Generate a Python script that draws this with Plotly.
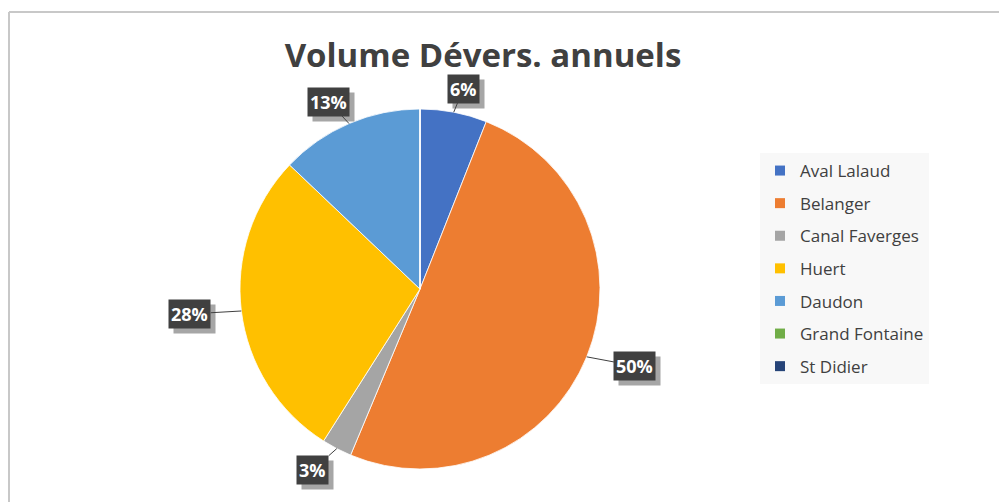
import math
import plotly.graph_objects as go

# ---- data ----
labels = ["Aval Lalaud", "Belanger", "Canal Faverges", "Huert", "Daudon", "Grand Fontaine", "St Didier"]
values = [6.0, 50.3, 2.7, 28.1, 12.9, 0.0, 0.0]
colors = ["#4472C4", "#ED7D31", "#A5A5A5", "#FFC000", "#5B9BD5", "#70AD47", "#264478"]
title_text = "Volume Dévers. annuels"

# ---- layout constants (page has an 8px body margin) ----
OFF = 8
W, H = 999, 494
CX, CY, R = 420 - OFF, 289 - OFF, 180  # pie centre / radius in figure pixels


def px_x(sx):
    return (sx - OFF) / W


def px_y(sy):
    return 1 - (sy - OFF) / H


fig = go.Figure()

fig.add_trace(go.Pie(
    labels=labels, values=values,
    marker=dict(colors=colors, line=dict(color="white", width=0.8)),
    sort=False, direction="clockwise", rotation=0,
    textinfo="none", showlegend=False, hoverinfo="label+percent",
    domain=dict(x=[(CX - R) / W, (CX + R) / W],
                y=[1 - (CY + R) / H, 1 - (CY - R) / H]),
))

# legend entries (one per category, separate groups so spacing matches)
for lab, col in zip(labels, colors):
    fig.add_trace(go.Scatter(
        x=[None], y=[None], mode="markers", name=lab, legendgroup=lab,
        marker=dict(symbol="square", size=10, color=col),
        showlegend=True,
    ))

# percentage labels with leader lines, derived from the values
total = sum(values)
annotations = []
cum = 0.0
for v in values:
    if v <= 0:
        cum += v
        continue
    mid = (cum + v / 2) / total * 2 * math.pi
    cum += v
    s, c = math.sin(mid), math.cos(mid)
    fx = CX + R * s
    fy = CY - R * c
    ax = 26 * s + 26 * s
    ay = -24 * c
    txt = f"<b>{round(v / total * 100):d}%</b>"
    common = dict(x=fx / W, y=1 - fy / H, xref="paper", yref="paper",
                  showarrow=True, arrowhead=0, arrowwidth=1, borderpad=2)
    # shadow
    annotations.append(dict(common, text=txt, ax=ax + 5, ay=ay + 5,
                            arrowcolor="rgba(0,0,0,0)", bgcolor="#A6A6A6",
                            font=dict(family="Open Sans", size=18, color="#A6A6A6")))
    annotations.append(dict(common, text=txt, ax=ax, ay=ay,
                            arrowcolor="#404040", bgcolor="#404040",
                            font=dict(family="Open Sans", size=18, color="white")))

fig.update_layout(
    width=W, height=H,
    margin=dict(l=0, r=0, t=0, b=0),
    paper_bgcolor="white", plot_bgcolor="white",
    title=dict(text=f"<b>{title_text}</b>", x=px_x(483), xanchor="center",
               y=px_y(55), yanchor="middle", yref="container",
               font=dict(family="Open Sans", size=33, color="#404040")),
    xaxis=dict(visible=False), yaxis=dict(visible=False),
    legend=dict(x=px_x(760), y=px_y(153), xanchor="left", yanchor="top",
                bgcolor="#F8F8F8", tracegroupgap=7.5,
                font=dict(family="Open Sans", size=17, color="#404040")),
    annotations=annotations,
    shapes=[
        dict(type="line", xref="paper", yref="paper", x0=1 / W, x1=1, y0=px_y(12), y1=px_y(12),
             line=dict(color="#C8C8C8", width=2)),
        dict(type="line", xref="paper", yref="paper", x0=1 / W, x1=1 / W, y0=0, y1=px_y(12),
             line=dict(color="#C8C8C8", width=2)),
    ],
)

fig.write_html("out.html")
